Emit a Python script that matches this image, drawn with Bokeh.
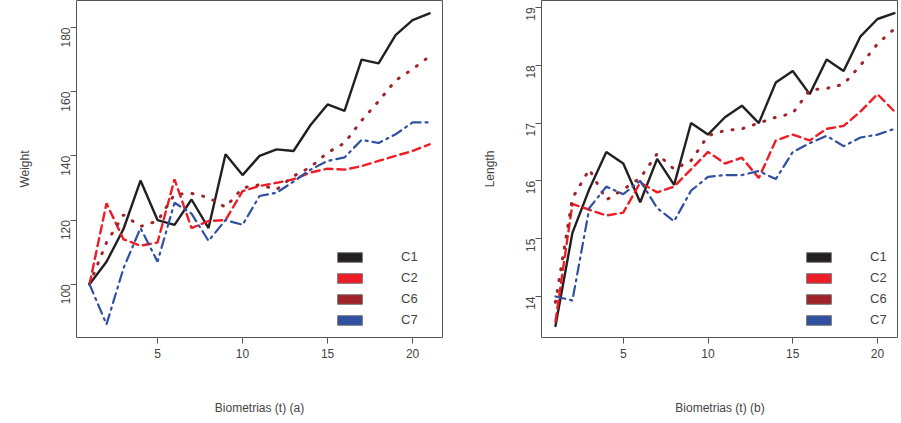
import math
from bokeh.plotting import figure
from bokeh.layouts import row
from bokeh.models import Legend, LegendItem, Range1d, FixedTicker
from bokeh.embed import file_html
from bokeh.resources import INLINE

t = list(range(1, 22))

# Weight
w_c1 = [100, 107, 117.2, 132.3, 120, 118.5, 126.4, 117.5, 140.5, 134, 140, 142, 141.5,
        149.6, 156, 154, 170, 168.8, 177.6, 182.3, 184.4]
w_c2 = [100, 125.2, 114, 112, 113, 132.7, 117.5, 119.7, 120, 129, 130.6, 131.6, 132.7,
        134.8, 136, 135.7, 136.8, 138.4, 140, 141.5, 143.6]
w_c6 = [100, 113, 121.6, 118, 119.7, 128, 128.3, 127, 124, 130, 131, 129.5, 133.7,
        136.5, 141, 144, 151, 157, 163.5, 167, 171]
w_c7 = [100, 87.5, 105, 117.5, 107, 125.4, 122, 113.5, 120, 118.5, 127.5, 128.5, 132,
        135.7, 138.4, 139.5, 145, 144, 146.7, 150.4, 150.4]

# Length
l_c1 = [13.49, 15.1, 15.86, 16.5, 16.3, 15.63, 16.38, 15.93, 17.0, 16.8, 17.1, 17.3, 17.0,
        17.7, 17.9, 17.5, 18.1, 17.9, 18.5, 18.8, 18.9]
l_c2 = [13.57, 15.6, 15.5, 15.4, 15.45, 15.97, 15.8, 15.9, 16.2, 16.5, 16.3, 16.4, 16.05,
        16.7, 16.8, 16.7, 16.9, 16.95, 17.2, 17.5, 17.2]
l_c6 = [13.9, 15.7, 16.2, 15.67, 15.85, 16.05, 16.47, 16.2, 16.35, 16.78, 16.87, 16.9, 17.0,
        17.1, 17.17, 17.57, 17.6, 17.67, 18.0, 18.37, 18.63]
l_c7 = [14.0, 13.93, 15.53, 15.9, 15.77, 16.0, 15.53, 15.3, 15.83, 16.07, 16.1, 16.1, 16.17,
        16.03, 16.5, 16.65, 16.78, 16.6, 16.75, 16.8, 16.9]

names = ["C1", "C2", "C6", "C7"]
colors = ["#231f20", "#ee1c24", "#a0232a", "#2f4fa0"]
dashes = ["solid", "8 5", "1 10", "10 5 2 5"]
widths = [2.4, 2.4, 3.0, 2.2]
FONT = "Liberation Sans"


def make_plot(series, xlabel, ylabel, yr, yticks, xr, fw, left, right, legend_x):
    p = figure(frame_width=fw, frame_height=337, output_backend="svg", toolbar_location=None,
               tools="", x_range=Range1d(*xr), y_range=Range1d(*yr),
               min_border_left=left, min_border_right=right, min_border_top=0,
               min_border_bottom=64)
    for ys, c, d, lw in zip(series, colors, dashes, widths):
        p.line(t, ys, line_color=c, line_width=lw, line_dash=d, line_cap="round")
    items = []
    for n, c in zip(names, colors):
        r = p.quad(left=[-10], right=[-9], top=[-10], bottom=[-11], fill_color=c,
                   line_color="#777777")
        items.append(LegendItem(label=n, renderers=[r]))
    leg = Legend(items=items, location=(legend_x, 10), glyph_width=31, glyph_height=12,
                 spacing=6, label_standoff=36, background_fill_alpha=0,
                 border_line_alpha=0, label_text_font=FONT, label_text_font_size="13px",
                 label_height=12, padding=0, margin=0)
    p.add_layout(leg)
    p.grid.visible = False
    p.outline_line_color = "#555555"
    p.xaxis.ticker = FixedTicker(ticks=[5, 10, 15, 20])
    p.yaxis.ticker = FixedTicker(ticks=yticks)
    p.yaxis.major_label_orientation = math.pi / 2
    for ax in (p.xaxis, p.yaxis):
        ax.axis_line_color = None
        ax.major_tick_out = 6
        ax.major_tick_in = 0
        ax.minor_tick_line_color = None
        ax.major_tick_line_color = "#555555"
        ax.major_label_text_font = FONT
        ax.major_label_text_font_size = "12px"
        ax.axis_label_text_font = FONT
        ax.axis_label_text_font_size = "12px"
        ax.axis_label_text_font_style = "normal"
    p.xaxis.axis_label = xlabel
    p.yaxis.axis_label = ylabel
    p.xaxis.axis_label_standoff = 40
    p.yaxis.axis_label_standoff = 22
    return p


p1 = make_plot([w_c1, w_c2, w_c6, w_c7], "Biometrias (t) (a)", "Weight",
               (83.4, 188.4), [100, 120, 140, 160, 180], (0.235, 21.76), 366, 76, 37, 258)
p2 = make_plot([l_c1, l_c2, l_c6, l_c7], "Biometrias (t) (b)", "Length",
               (13.29, 19.12), [14, 15, 16, 17, 18, 19], (0.176, 21.24), 357, 61, 0, 262)

p = row(p1, p2)
open("out.html", "w").write(file_html(p, INLINE))
